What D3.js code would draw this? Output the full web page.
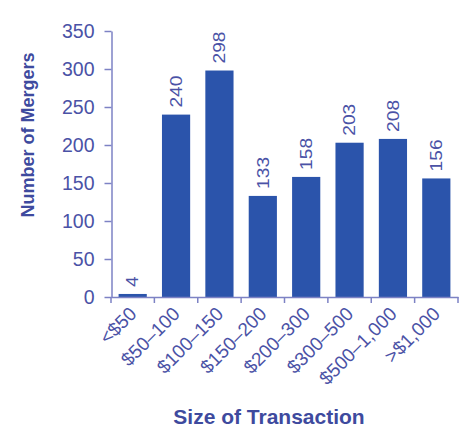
<!DOCTYPE html>
<html>
<head>
<meta charset="utf-8">
<script src="https://cdn.jsdelivr.net/npm/d3@7"></script>
<style>
  html, body { margin: 0; padding: 0; background: #ffffff; }
  svg { display: block; }
  text { font-family: "Liberation Sans", Arial, sans-serif; }
</style>
</head>
<body>
<svg id="chart" width="463" height="427"></svg>
<script>
// ---- data ----
const categories = ["<$50", "$50\u2013100", "$100\u2013150", "$150\u2013200", "$200\u2013300", "$300\u2013500", "$500\u20131,000", ">$1,000"];
const mergers = [4, 240, 298, 133, 158, 203, 208, 156];
const yTicks = [0, 50, 100, 150, 200, 250, 300, 350];
const xTitle = "Size of Transaction";
const yTitle = "Number of Mergers";

// ---- styles ----
const barColor = "#2b54ab";
const axisColor = "#7d82c4";
const labelColor = "#4a52a6";
const titleColor = "#3e4a9e";

const svg = d3.select("#chart");

const x = d3.scaleBand()
  .domain(categories)
  .range([111, 458])
  .paddingInner(0.35)
  .paddingOuter(0.175);

const y = d3.scaleLinear()
  .domain([0, 350])
  .range([297, 31]);

// bars
svg.append("g")
  .selectAll("rect")
  .data(mergers)
  .join("rect")
  .attr("x", (d, i) => x(categories[i]))
  .attr("width", x.bandwidth())
  .attr("y", d => y(d))
  .attr("height", d => y(0) - y(d))
  .attr("fill", barColor);

// value labels
svg.append("g")
  .selectAll("text")
  .data(mergers)
  .join("text")
  .attr("transform", (d, i) => `translate(${x(categories[i]) + x.bandwidth() / 2},${y(d) - 7}) rotate(-90) scale(1.2,1)`)
  .attr("dy", "0.36em")
  .attr("text-anchor", "start")
  .attr("font-size", 16)
  .attr("fill", labelColor)
  .text(d => d);

// y axis
const yAxis = d3.axisLeft(y)
  .tickValues(yTicks)
  .tickSize(7)
  .tickSizeOuter(0)
  .tickPadding(10);

const gy = svg.append("g")
  .attr("transform", "translate(111.5,0)")
  .call(yAxis);
gy.select(".domain").attr("stroke", axisColor).attr("stroke-width", 1.5);
gy.selectAll(".tick line").attr("stroke", axisColor).attr("stroke-width", 1.5);
gy.selectAll(".tick text")
  .attr("font-size", 19.5)
  .attr("font-family", "\"Liberation Sans\", Arial, sans-serif")
  .attr("fill", labelColor);

// x axis
const xAxis = d3.axisBottom(x).tickSize(0).tickSizeOuter(0);
const gx = svg.append("g")
  .attr("transform", `translate(0,${y(0)})`)
  .call(xAxis);
gx.select(".domain").attr("stroke", axisColor).attr("stroke-width", 1.5);
gx.selectAll(".tick text")
  .attr("x", 0).attr("y", 0).attr("dy", 0)
  .attr("transform", "translate(5,18) rotate(-45)")
  .attr("text-anchor", "end")
  .attr("font-size", 19)
  .attr("font-family", "\"Liberation Sans\", Arial, sans-serif")
  .attr("fill", labelColor);

// boundary ticks
const bounds = d3.range(categories.length + 1).map(i => x.range()[0] + i * x.step());
gx.selectAll("line.bound")
  .data(bounds)
  .join("line")
  .attr("class", "bound")
  .attr("x1", d => d).attr("x2", d => d)
  .attr("y1", 0).attr("y2", 6)
  .attr("stroke", axisColor)
  .attr("stroke-width", 1.5);

// titles
svg.append("text")
  .attr("x", 269)
  .attr("y", 424)
  .attr("text-anchor", "middle")
  .attr("font-size", 21)
  .attr("font-weight", "bold")
  .attr("fill", titleColor)
  .text(xTitle);

svg.append("text")
  .attr("transform", "translate(33.5,135) rotate(-90)")
  .attr("text-anchor", "middle")
  .attr("font-size", 18)
  .attr("font-weight", "bold")
  .attr("fill", titleColor)
  .text(yTitle);
</script>
</body>
</html>
